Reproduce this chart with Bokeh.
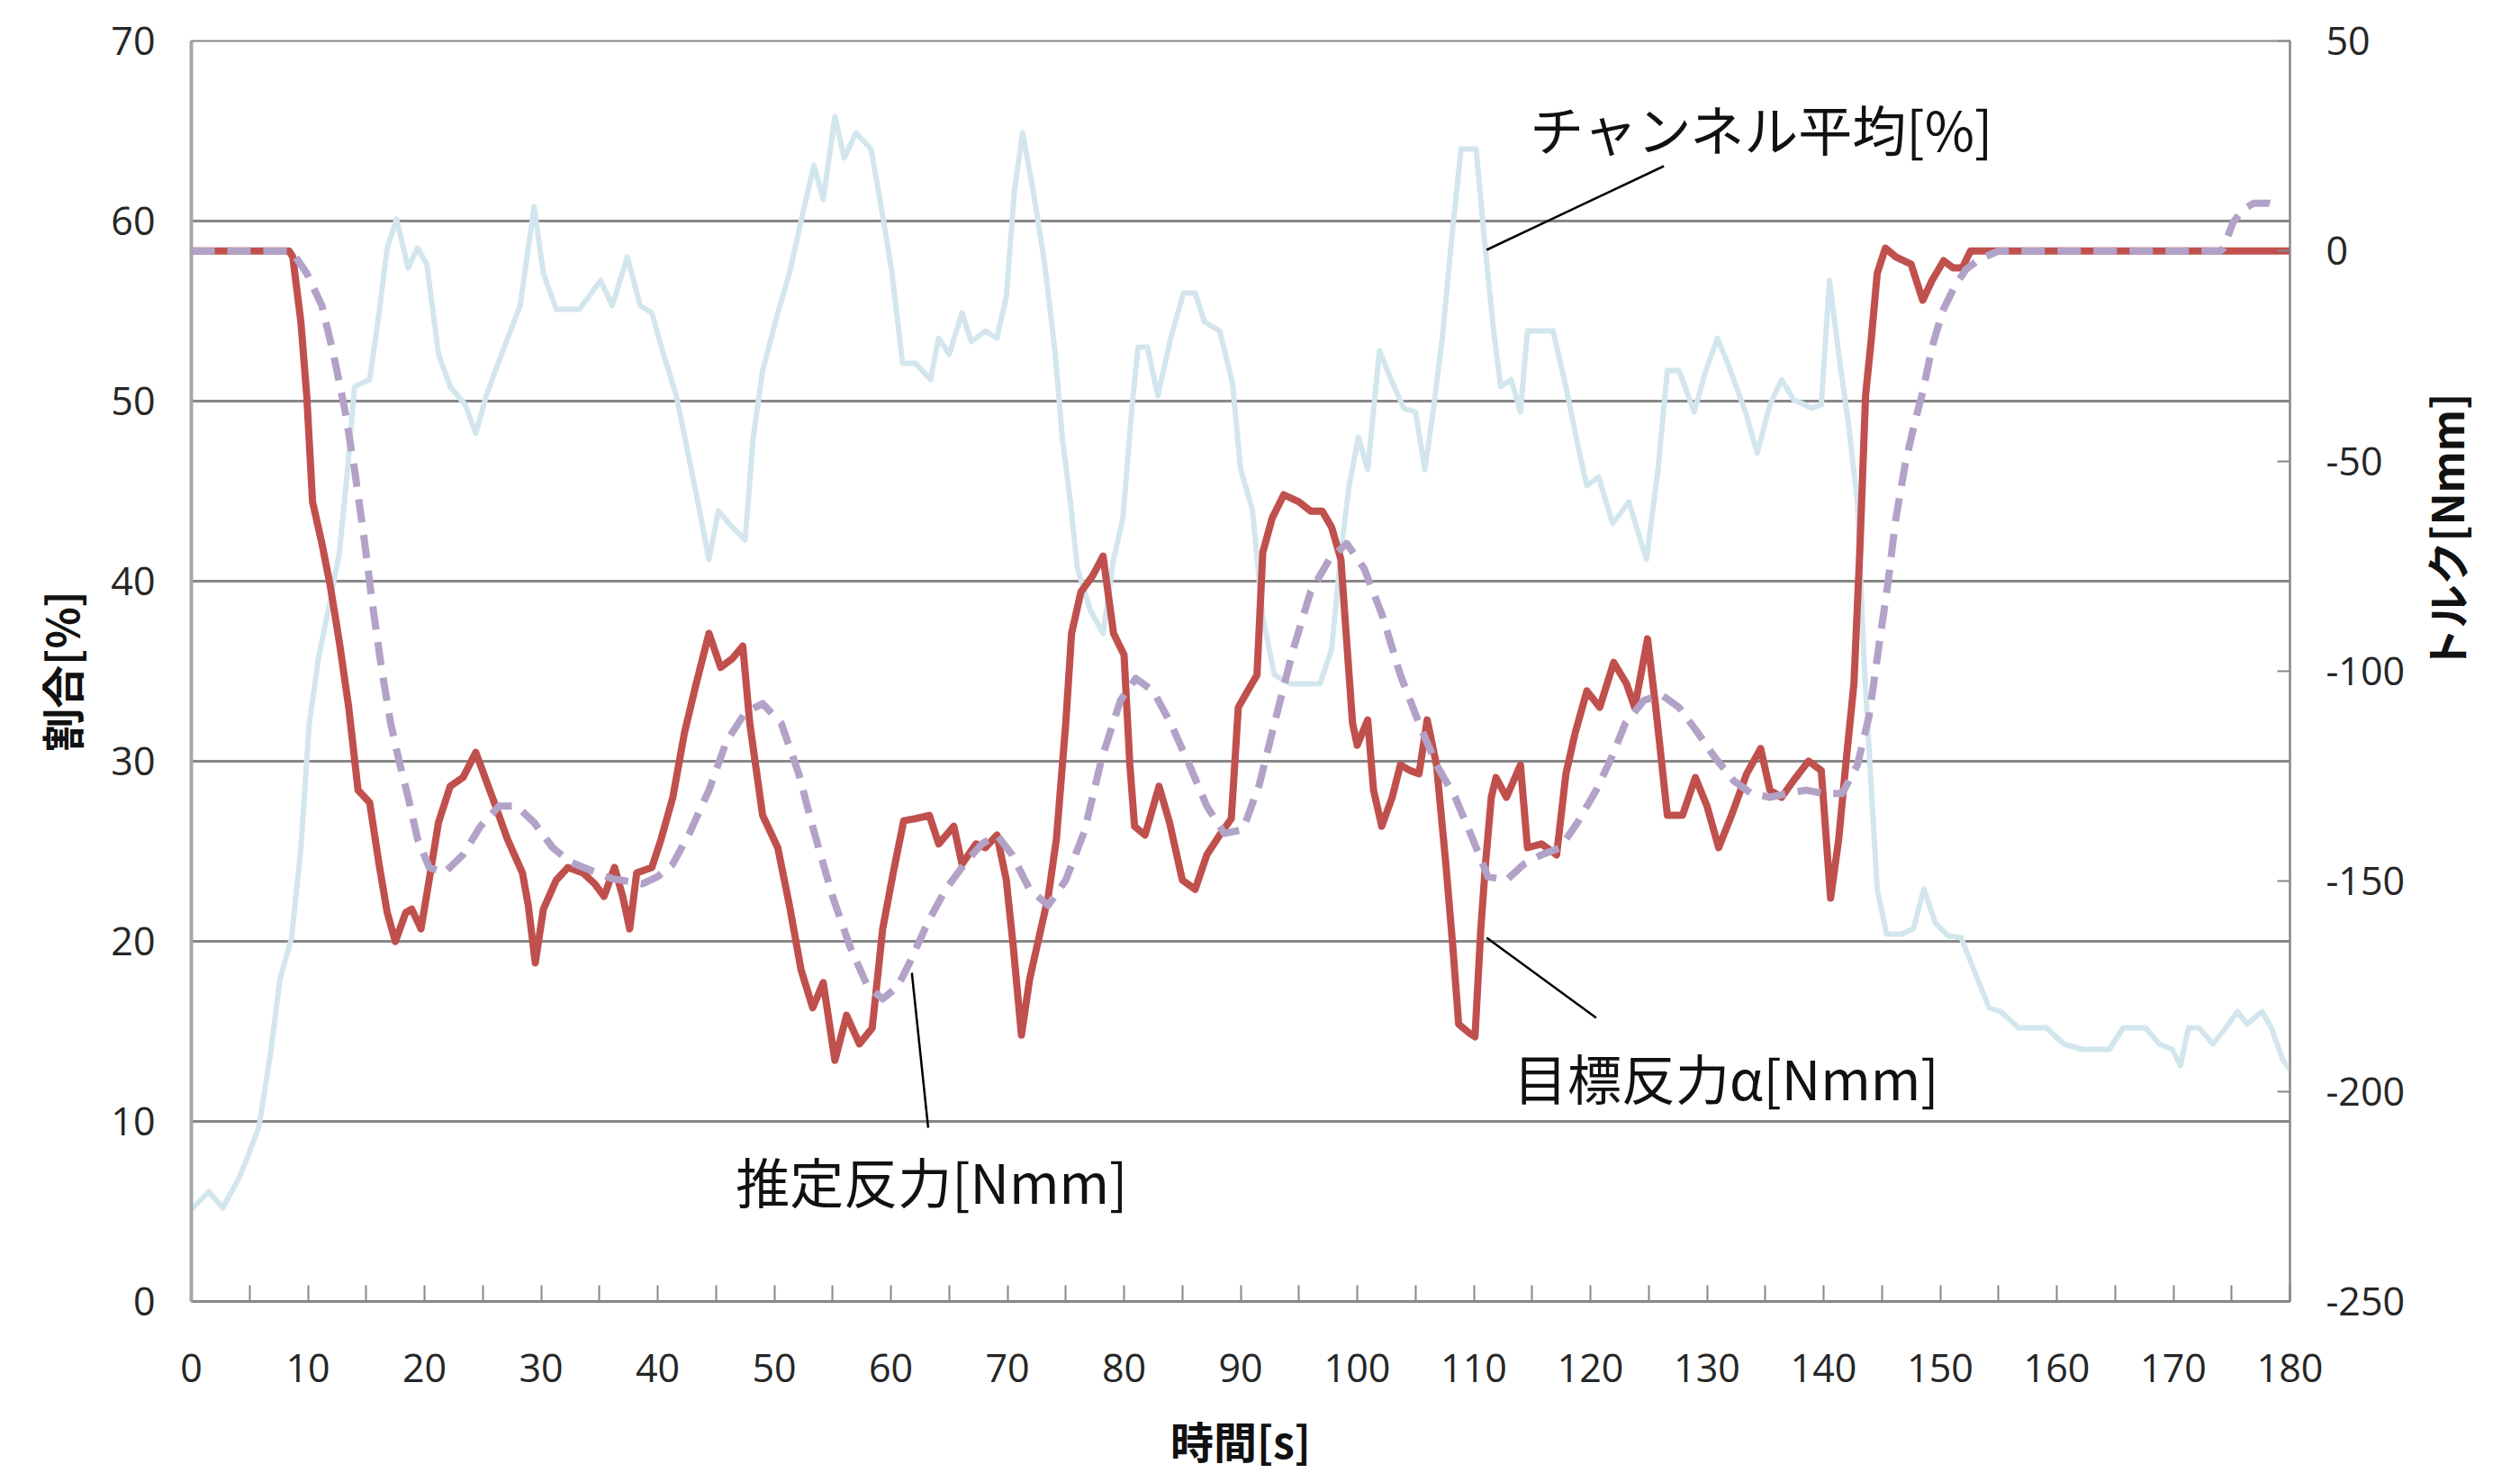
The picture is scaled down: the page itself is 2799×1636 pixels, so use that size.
from math import pi

from bokeh.embed import file_html
from bokeh.models import FixedTicker, Label, LinearAxis, Range1d
from bokeh.plotting import figure
from bokeh.resources import INLINE

# チャンネル平均[%]  (left axis)
ch_t = [0, 1.5, 2.7, 4.2, 5.8, 6.8, 7.6, 8.6, 9.4, 10.1, 10.9, 11.9, 12.7, 13.4, 14.0, 15.3, 16.1, 16.8,
        17.6, 18.6, 19.4, 20.2, 21.2, 22.2, 23.5, 24.4, 25.3, 26.6, 28.2, 28.9, 29.4, 30.2, 31.3, 33.3,
        35.1, 36.1, 37.4, 38.5, 39.5, 40.5, 41.6, 42.6, 43.6, 44.4, 45.2, 46.4, 47.5, 48.2, 49.0, 50.3,
        51.3, 52.4, 53.4, 54.2, 55.2, 56.0, 57.0, 58.3, 59.3, 60.1, 61.0, 62.1, 63.4, 64.1, 65.0, 66.1,
        66.9, 68.1, 69.1, 69.9, 70.6, 71.3, 72.2, 73.2, 74.1, 74.7, 75.4, 76.0, 77.1, 78.2, 79.1, 79.9,
        80.7, 81.2, 82.0, 82.9, 84.0, 85.1, 86.1, 86.9, 88.2, 89.3, 90.0, 91.0, 91.9, 92.9, 94.2, 96.8,
        97.8, 98.6, 99.3, 100.1, 100.9, 101.9, 102.9, 104.0, 105.0, 105.8, 106.5, 107.3, 108.1, 108.9,
        110.2, 110.9, 111.7, 112.3, 113.2, 114.0, 114.6, 116.8, 117.9, 118.9, 119.7, 120.7, 121.9, 123.3,
        124.8, 125.8, 126.6, 127.6, 128.9, 129.9, 130.9, 132.0, 133.3, 134.3, 135.4, 136.4, 137.4, 139.0,
        139.8, 140.5, 141.3, 142.1, 142.9, 143.5, 144.1, 144.6, 145.4, 146.7, 147.7, 148.6, 149.6, 150.7,
        151.8, 152.9, 154.2, 155.2, 156.7, 159.1, 160.6, 162.2, 164.5, 165.7, 167.6, 168.8, 169.9, 170.6,
        171.3, 172.2, 173.4, 174.5, 175.5, 176.3, 177.6, 178.4, 179.4, 180.0]
ch_pct = [5.1, 6.1, 5.2, 7.0, 9.7, 13.8, 17.9, 20.2, 25.2, 32.0, 35.7, 38.9, 41.6, 46.2, 50.8, 51.2, 54.9, 58.5,
          60.1, 57.4, 58.5, 57.6, 52.6, 50.8, 49.8, 48.2, 50.3, 52.6, 55.3, 58.5, 60.8, 57.1, 55.1, 55.1,
          56.7, 55.3, 58.0, 55.3, 54.9, 52.6, 50.3, 47.1, 43.9, 41.2, 43.9, 43.0, 42.3, 48.0, 51.7, 54.9,
          57.1, 60.3, 63.1, 61.2, 65.8, 63.5, 64.9, 64.0, 60.3, 57.1, 52.1, 52.1, 51.2, 53.5, 52.6, 54.9,
          53.3, 53.9, 53.5, 55.8, 61.7, 64.9, 61.7, 57.6, 52.6, 48.0, 44.4, 40.7, 38.4, 37.1, 41.2, 43.5,
          49.8, 53.0, 53.0, 50.3, 53.5, 56.0, 56.0, 54.4, 53.9, 51.0, 46.2, 44.0, 38.0, 34.8, 34.3, 34.3,
          36.2, 41.6, 45.3, 48.0, 46.2, 52.8, 51.2, 49.6, 49.4, 46.2, 49.4, 53.5, 59.0, 64.0,
          64.0, 59.0, 53.9, 50.8, 51.2, 49.4, 53.9, 53.9, 50.8, 47.6, 45.3, 45.8, 43.2, 44.4,
          41.2, 46.2, 51.7, 51.7, 49.4, 51.7, 53.5, 51.7, 49.4, 47.1, 49.8, 51.2, 50.1, 49.6,
          49.8, 56.7, 52.6, 48.9, 44.4, 35.2, 28.4, 22.9, 20.4, 20.4, 20.7, 22.9, 21.0, 20.3,
          20.2, 18.4, 16.3, 16.1, 15.2, 15.2, 14.3, 14.0, 14.0, 15.2, 15.2, 14.3, 14.0, 13.1,
          15.2, 15.2, 14.3, 15.2, 16.1, 15.4, 16.1, 15.2, 13.4, 12.9]

# 目標反力α[Nmm]  (right axis)
tgt_t = [0, 8.4, 8.7, 9.4, 9.9, 10.4, 11.2, 11.9, 12.7, 13.5, 14.3, 15.3, 16.1, 16.8, 17.5, 18.4, 18.9, 19.7,
         20.4, 21.2, 22.2, 23.3, 24.4, 25.3, 26.1, 27.1, 28.4, 28.9, 29.5, 30.2, 31.3, 32.3, 33.6, 34.6,
         35.4, 36.3, 37.0, 37.6, 38.2, 39.5, 40.3, 41.3, 42.3, 43.3, 44.4, 45.4, 46.4, 47.3, 47.9, 49.0,
         50.3, 51.3, 52.3, 53.3, 54.2, 55.2, 56.2, 57.3, 58.4, 59.3, 60.2, 61.1, 62.1, 63.3, 64.1, 65.4,
         66.1, 67.3, 68.1, 69.1, 69.9, 70.5, 71.2, 71.9, 72.7, 73.5, 74.2, 75.0, 75.5, 76.3, 77.3, 78.2,
         79.1, 80.0, 80.5, 80.9, 81.8, 83.0, 83.9, 85.0, 86.1, 87.1, 88.2, 89.2, 89.8, 90.6, 91.4, 91.9,
         92.7, 93.7, 95.0, 96.0, 97.0, 97.8, 98.6, 99.1, 99.6, 100.0, 100.9, 101.4, 102.1, 103.0, 103.7,
         104.5, 105.3, 106.0, 106.8, 107.6, 108.2, 108.7, 109.6, 110.1, 110.6, 111.0, 111.5, 111.9, 112.8,
         114.0, 114.6, 115.8, 117.1, 117.9, 118.7, 119.7, 120.8, 122.0, 123.1, 123.8, 124.9, 125.6, 126.6,
         127.9, 129.0, 130.0, 131.0, 132.1, 133.4, 134.6, 135.4, 136.4, 137.4, 138.7, 139.8, 140.6, 141.3,
         141.9, 142.6, 143.1, 143.6, 144.1, 144.6, 145.3, 146.2, 147.5, 148.5, 149.3, 150.3, 151.1, 151.9,
         152.6, 180.0]
tgt_nmm = [0, 0, -1.4, -16.9, -34.4, -59.7, -69.6, -79.4, -93.1, -108.6, -128.3, -131.3, -145.9, -157.4,
           -164.3, -157.4, -156.6, -161.3, -149.7, -136.0, -127.4, -125.3, -119.3, -126.1, -132.1, -139.9,
           -148.0, -155.7, -169.4, -156.6, -149.7, -146.7, -148.0, -150.6, -153.6, -146.7, -153.6, -161.3,
           -148.0, -146.7, -139.9, -130.0, -114.6, -103.0, -91.0, -99.1, -97.0, -94.0, -112.4, -134.3,
           -142.0, -155.7, -171.1, -180.1, -174.1, -192.6, -181.9, -188.7, -184.9, -161.3, -148.0, -135.6,
           -135.1, -134.3, -141.1, -136.9, -145.9, -141.1, -142.0, -139.0, -149.7, -165.6, -186.6, -173.3,
           -163.4, -153.6, -139.9, -112.4, -91.0, -81.1, -77.3, -72.6, -91.0, -96.1, -122.3, -136.9, -139.0,
           -127.4, -136.0, -149.7, -151.9, -143.7, -139.0, -135.1, -108.6, -104.7, -100.9, -71.7, -63.6,
           -58.0, -59.7, -61.9, -61.9, -65.7, -73.4, -93.1, -112.4, -117.6, -111.6, -128.3, -136.9, -130.0,
           -122.3, -123.6, -124.4, -111.6, -122.3, -145.9, -165.6, -184.0, -186.1, -187.0, -161.3, -145.9,
           -130.0, -125.3, -130.0, -122.3, -142.0, -141.1, -143.7, -124.4, -114.6, -104.7, -108.6, -97.9,
           -103.0, -108.6, -92.3, -108.6, -134.3, -134.3, -125.3, -132.1, -142.0, -134.3, -124.4, -118.4,
           -128.3, -130.0, -126.1, -121.4, -123.6, -154.0, -139.9, -122.3, -103.0, -71.7, -34.4, -20.7,
           -5.3, 0.7, -1.4, -3.1, -11.7, -7.0, -2.3, -4.0, -4.0, 0, 0]

# 推定反力[Nmm]  (right axis)
est_t = [0, 8.6, 9.9, 11.2, 12.2, 13.2, 14.0, 14.8, 15.5, 16.3, 17.1, 17.9, 18.6, 19.4, 20.4, 21.7, 23.3,
         24.8, 26.4, 27.9, 29.4, 31.0, 32.5, 34.0, 36.0, 38.7, 40.0, 41.3, 42.8, 44.4, 45.9, 47.5, 49.0,
         50.6, 52.1, 53.4, 55.0, 56.5, 58.0, 59.3, 60.6, 61.6, 63.2, 64.7, 66.3, 67.8, 69.1, 70.4, 71.9,
         73.5, 75.0, 76.6, 78.1, 79.7, 81.0, 82.5, 84.0, 85.6, 87.1, 88.6, 90.2, 91.6, 92.9, 94.5, 96.0,
         97.6, 99.1, 100.6, 102.2, 103.7, 105.3, 106.8, 108.4, 109.9, 111.2, 112.8, 114.3, 115.8, 117.4,
         118.9, 120.5, 121.8, 123.0, 124.6, 126.1, 127.6, 129.2, 130.7, 132.3, 133.8, 135.4, 136.9, 138.5,
         140.0, 141.6, 142.9, 143.9, 144.7, 145.5, 146.2, 147.0, 147.8, 148.5, 149.3, 150.2, 151.2, 152.2,
         153.4, 155.0, 174.0, 174.3, 175.1, 175.9, 176.9, 178.2, 179.2]
est_nmm = [0, 0, -5.3, -13.0, -24.6, -38.3, -52.0, -67.9, -83.3, -99.1, -112.4, -122.3, -130.0, -139.9,
           -146.7, -148.0, -143.7, -136.9, -132.1, -132.1, -136.0, -142.0, -145.4, -147.1, -149.3, -150.6,
           -148.9, -145.9, -138.1, -128.3, -116.7, -109.9, -107.7, -112.4, -124.4, -138.1, -153.6, -165.6,
           -175.0, -178.0, -175.0, -169.4, -159.6, -151.9, -145.9, -141.1, -139.0, -143.7, -151.9, -155.7,
           -149.7, -138.1, -120.6, -106.9, -101.7, -104.7, -112.4, -122.3, -132.1, -138.6, -137.7, -127.0,
           -112.4, -94.9, -81.1, -73.4, -69.6, -75.6, -87.1, -100.9, -112.4, -122.3, -130.0, -139.9, -148.9,
           -149.7, -145.9, -143.7, -142.0, -136.0, -128.3, -120.6, -112.4, -106.9, -105.6, -108.6, -114.6,
           -120.6, -126.1, -129.1, -130.0, -129.1, -128.3, -129.1, -129.1, -122.3, -110.7, -94.9, -79.4,
           -63.6, -50.7, -40.9, -33.6, -22.9, -14.3, -8.7, -4.4, -1.9, 0, 0, 0.7, 6.7, 9.7, 11.4, 11.4, 10.6]

# axis ticks
time_ticks = list(range(0, 181, 10))
time_minor = list(range(5, 180, 10))
pct_ticks = list(range(0, 71, 10))
nmm_ticks = list(range(-250, 51, 50))

GRID = "#878787"
TICK_FONT = "Open Sans"
JP_FONT = "Noto Sans CJK JP"
INK = "#111111"

p = figure(width=2799, height=1636, output_backend="svg", toolbar_location=None,
           x_range=Range1d(0, 180), y_range=Range1d(0, 70),
           min_border_left=212, min_border_right=256, min_border_top=45, min_border_bottom=191)
p.extra_y_ranges = {"nmm": Range1d(-250, 50)}
p.background_fill_color = "white"
p.border_fill_color = "white"
p.outline_line_color = GRID
p.outline_line_width = 2

# horizontal grid from the percentage axis only
p.xgrid.visible = False
p.ygrid.ticker = FixedTicker(ticks=pct_ticks)
p.ygrid.grid_line_color = GRID
p.ygrid.grid_line_width = 3

# bottom time axis
xa = p.xaxis[0]
xa.ticker = FixedTicker(ticks=time_ticks, minor_ticks=time_minor)
xa.major_tick_in = 18
xa.major_tick_out = 0
xa.minor_tick_in = 18
xa.minor_tick_out = 0
xa.major_tick_line_color = GRID
xa.minor_tick_line_color = GRID
xa.major_tick_line_width = 2
xa.minor_tick_line_width = 2
xa.axis_line_color = GRID
xa.axis_line_width = 3
xa.major_label_standoff = 58
xa.axis_label = "時間[s]"
xa.axis_label_standoff = 26

# left percentage axis
ya = p.yaxis[0]
ya.ticker = FixedTicker(ticks=pct_ticks)
ya.major_tick_in = 0
ya.major_tick_out = 0
ya.axis_line_color = "#a6a6a6"
ya.axis_line_width = 4
ya.major_label_standoff = 40
ya.axis_label = "割合[%]"
ya.axis_label_standoff = 18

# right torque axis
ra = LinearAxis(y_range_name="nmm", ticker=FixedTicker(ticks=nmm_ticks))
ra.major_tick_in = 14
ra.major_tick_out = 0
ra.major_tick_line_color = GRID
ra.major_tick_line_width = 2
ra.axis_line_color = GRID
ra.axis_line_width = 2
ra.major_label_standoff = 40
ra.major_label_overrides = {t: str(t) for t in nmm_ticks}
ra.axis_label = "トルク[Nmm]"
ra.axis_label_standoff = 42
if hasattr(ra, "axis_label_orientation"):
    ra.axis_label_orientation = pi / 2
p.add_layout(ra, "right")

for ax in (xa, ya, ra):
    ax.major_label_text_font = TICK_FONT
    ax.major_label_text_font_size = "43px"
    ax.major_label_text_color = "#262626"
    ax.axis_label_text_font = JP_FONT
    ax.axis_label_text_font_style = "bold"
    ax.axis_label_text_font_size = "48px"
    ax.axis_label_text_color = INK

# series
p.line(ch_t, ch_pct, line_color="#d3e6ee", line_width=6, line_join="round")
p.line(tgt_t, tgt_nmm, y_range_name="nmm", line_color="#c0504d", line_width=8, line_join="round")
p.line(est_t, est_nmm, y_range_name="nmm", line_color="#b3a2c7", line_width=8,
       line_dash="26 14", line_join="round")

# callouts: (text, text anchor, leader line start, leader line end) in (time, %) coordinates
callouts = [
    ("チャンネル平均[%]", (114.8, 65.2), (126.3, 63.05), (111.1, 58.4)),
    ("推定反力[Nmm]", (46.7, 6.75), (61.8, 18.25), (63.2, 9.65)),
    ("目標反力α[Nmm]", (113.4, 12.5), (111.1, 20.2), (120.5, 15.75)),
]
for text, (tx, ty), (x0, y0), (x1, y1) in callouts:
    p.line([x0, x1], [y0, y1], line_color="black", line_width=2.5)
    p.add_layout(Label(x=tx, y=ty, text=text, text_font=JP_FONT, text_font_size="60px",
                       text_color=INK, text_baseline="middle", text_align="left"))

open("out.html", "w").write(file_html(p, INLINE))
